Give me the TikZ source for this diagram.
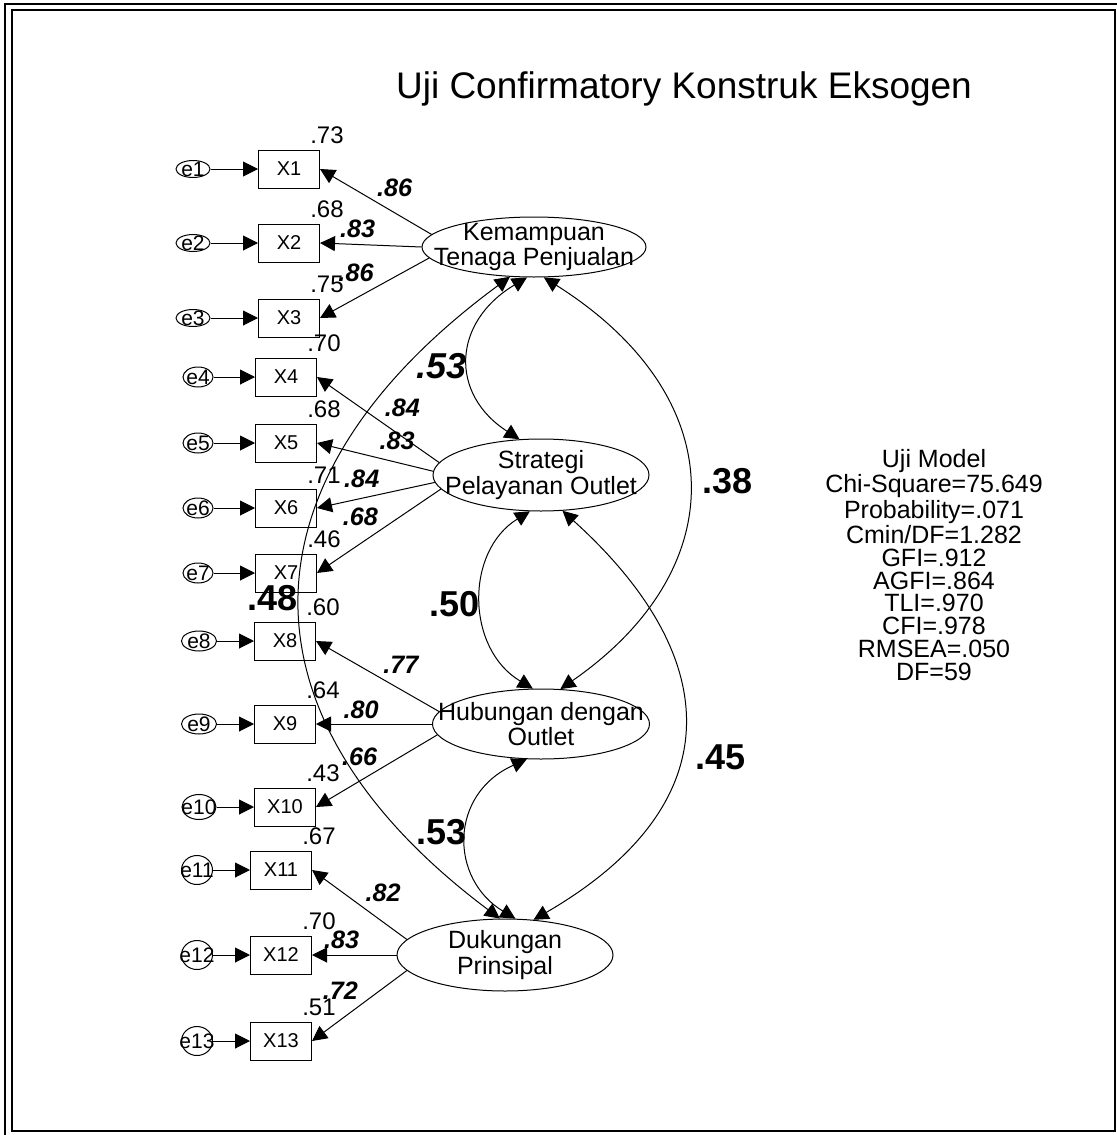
\documentclass[tikz,border=0pt]{standalone}
\usepackage{fontspec}
\setmainfont{Liberation Sans}
\usetikzlibrary{arrows.meta,shapes.geometric}

\begin{document}
\begin{tikzpicture}[
  x=0.5pt,
  y=-0.5pt,
  latent/.style={
    draw,
    ellipse,
    inner sep=0pt,
    minimum width=108pt,
    minimum height=36pt,
    line width=0.5pt
  },
  ltext/.style={font=\fontsize{12.5}{9.7}\selectfont, align=center, inner sep=0pt},
  indicator/.style={draw, line width=0.5pt, minimum width=30.5pt, minimum height=19pt, inner sep=0pt, font=\fontsize{10}{10}\selectfont},
  error/.style={draw, ellipse, inner sep=0pt, line width=0.5pt, minimum width=15pt, minimum height=10pt},
  etext/.style={font=\fontsize{10.5}{10.5}\selectfont, inner sep=0pt},
  variance/.style={font=\fontsize{12}{12}\selectfont, inner sep=0.5pt, xshift=19pt, yshift=2pt},
  loading/.style={font=\fontsize{12.6}{12.6}\selectfont\bfseries\itshape, inner sep=0pt},
  corr/.style={font=\fontsize{18}{18}\selectfont\bfseries, inner sep=0pt},
  arrow/.style={-{Triangle[length=7.5pt,width=7.5pt]}, line width=0.5pt},
  cov/.style={{Triangle[length=7.5pt,width=7.5pt]}-{Triangle[length=7.5pt,width=7.5pt]}, line width=0.5pt}
]
\useasboundingbox (0,0) rectangle (1117,1135);
% frame
\draw[line width=1.25pt] (5,1135) -- (5,4) -- (1117,4);
\draw[line width=1.25pt] (12,10) rectangle (1115,1131);

\node[anchor=base, font=\fontsize{18.5}{18.5}\selectfont] (title) at (684,98) {Uji Confirmatory Konstruk Eksogen};

% latent constructs
\node[latent, minimum width=112pt, minimum height=30pt, label={[ltext]center:Kemampuan\\Tenaga Penjualan}] (ktp) at (534,247) {};
\node[latent, label={[ltext]center:Strategi\\Pelayanan Outlet}] (spo) at (541,475) {};
\node[latent, minimum width=108.5pt, minimum height=35pt, label={[ltext]center:Hubungan dengan\\Outlet}] (hdo) at (541,724) {};
\node[latent, label={[ltext]center:Dukungan\\Prinsipal}] (dp) at (505,955) {};

% indicators
\node[indicator, label={[variance]above:.73}] (x1) at (289,169) {X1};
\node[indicator, label={[variance]above:.68}] (x2) at (289,243) {X2};
\node[indicator, label={[variance]above:.75}] (x3) at (289,318) {X3};
\node[indicator, label={[variance]above:.70}] (x4) at (286,377) {X4};
\node[indicator, label={[variance]above:.68}] (x5) at (286,443) {X5};
\node[indicator, label={[variance]above:.71}] (x6) at (286,508) {X6};
\node[indicator, label={[variance]above:.46}] (x7) at (286,573) {X7};
\node[indicator, label={[variance]above:.60}] (x8) at (285,641) {X8};
\node[indicator, label={[variance]above:.64}] (x9) at (285,724) {X9};
\node[indicator, label={[variance]above:.43}] (x10) at (285,807) {X10};
\node[indicator, label={[variance]above:.67}] (x11) at (281,870) {X11};
\node[indicator, label={[variance]above:.70}] (x12) at (281,955) {X12};
\node[indicator, label={[variance]above:.51}] (x13) at (281,1041) {X13};

% error terms
\node[error, minimum width=17pt, minimum height=8.5pt, label={[etext]center:e1}] (e1) at (193,169) {};
\node[error, minimum width=17pt, minimum height=8.5pt, label={[etext]center:e2}] (e2) at (193,243) {};
\node[error, minimum width=17pt, minimum height=8.5pt, label={[etext]center:e3}] (e3) at (193,318) {};
\node[error, label={[etext]center:e4}] (e4) at (198,377) {};
\node[error, label={[etext]center:e5}] (e5) at (198,443) {};
\node[error, label={[etext]center:e6}] (e6) at (198,508) {};
\node[error, label={[etext]center:e7}] (e7) at (198,573) {};
\node[error, minimum width=17.5pt, label={[etext]center:e8}] (e8) at (199,641) {};
\node[error, minimum width=17.5pt, label={[etext]center:e9}] (e9) at (199,724) {};
\node[error, minimum width=17pt, minimum height=12.5pt, label={[etext]center:e10}] (e10) at (199,807) {};
\node[error, minimum width=15.5pt, minimum height=14.5pt, label={[etext]center:e11}] (e11) at (197,870) {};
\node[error, minimum width=15.5pt, minimum height=14.5pt, label={[etext]center:e12}] (e12) at (197,955) {};
\node[error, minimum width=15.5pt, minimum height=14.5pt, label={[etext]center:e13}] (e13) at (197,1041) {};

\draw[arrow] (e1) -- (x1);
\draw[arrow] (e2) -- (x2);
\draw[arrow] (e3) -- (x3);
\draw[arrow] (e4) -- (x4);
\draw[arrow] (e5) -- (x5);
\draw[arrow] (e6) -- (x6);
\draw[arrow] (e7) -- (x7);
\draw[arrow] (e8) -- (x8);
\draw[arrow] (e9) -- (x9);
\draw[arrow] (e10) -- (x10);
\draw[arrow] (e11) -- (x11);
\draw[arrow] (e12) -- (x12);
\draw[arrow] (e13) -- (x13);

% loadings
\draw[arrow] (ktp.173) -- node[loading, pos=0.33, yshift=12.75pt] {.86} (x1.east);
\draw[arrow] (ktp.west) -- node[loading, pos=0.63, yshift=7.75pt] {.83} (x2.east);
\draw[arrow] (ktp.186) -- node[loading, pos=0.67, yshift=12.5pt] {.86} (x3.east);
\draw[arrow] (spo.173) -- node[loading, pos=0.30, yshift=14.5pt] {.84} (x4.east);
\draw[arrow] (spo.178) -- node[loading, pos=0.31, yshift=11pt] {.83} (x5.east);
\draw[arrow] (spo.184) -- node[loading, pos=0.62, yshift=9.65pt] {.84} (x6.east);
\draw[arrow] (spo.188) -- node[loading, pos=0.65, yshift=13.4pt] {.68} (x7.east);
\draw[arrow] (hdo.173) -- node[loading, pos=0.31, yshift=12.45pt] {.77} (x8.east);
\draw[arrow] (hdo.west) -- node[loading, pos=0.61, yshift=7pt] {.80} (x9.east);
\draw[arrow] (hdo.186) -- node[loading, pos=0.64, yshift=12pt] {.66} (x10.east);
\draw[arrow] (dp.171) -- node[loading, pos=0.25, yshift=14.75pt] {.82} (x11.east);
\draw[arrow] (dp.west) -- node[loading, pos=0.65, yshift=7.5pt] {.83} (x12.east);
\draw[arrow] (dp.189) -- node[loading, pos=0.70, yshift=14.4pt] {.72} (x13.east);

% covariances
\draw[cov] (ktp.257) .. controls +(-75,45) and +(-70,-45) .. (spo.121)
  node[corr, pos=0.5, font=\fontsize{18}{18}\selectfont\bfseries\itshape, xshift=-13.5pt, yshift=-3.75pt] {.53};
\draw[cov] (ktp.288) .. controls +(190,120) and +(173,-120) .. (hdo.61)
  node[corr, pos=0.5, xshift=19.5pt, yshift=1.25pt] {.38};
\draw[cov] (ktp.231) .. controls +(-277,204) and +(-267,-200) .. (dp.98)
  node[corr, pos=0.5, xshift=-14pt, yshift=0.5pt] {.48};
\draw[cov] (spo.253) .. controls +(-65,40) and +(-67,-40) .. (hdo.103)
  node[corr, pos=0.5, xshift=-13.5pt, yshift=-2pt] {.50};
\draw[cov] (spo.301) .. controls +(166,150) and +(195,-113) .. (dp.51)
  node[corr, pos=0.5, xshift=18.5pt, yshift=-14pt] {.45};
\draw[cov] (hdo.248) .. controls +(-78,35) and +(-66,-40) .. (dp.74)
  node[corr, pos=0.5, xshift=-13pt, yshift=2.5pt] {.53};

% fit indices
\node[align=center, font=\fontsize{12.5}{11.4}\selectfont, inner sep=0pt] (fit) at (934,565) {Uji Model\\Chi-Square=75.649\\Probability=.071\\Cmin/DF=1.282\\GFI=.912\\AGFI=.864\\TLI=.970\\CFI=.978\\RMSEA=.050\\DF=59};
\end{tikzpicture}
\end{document}
